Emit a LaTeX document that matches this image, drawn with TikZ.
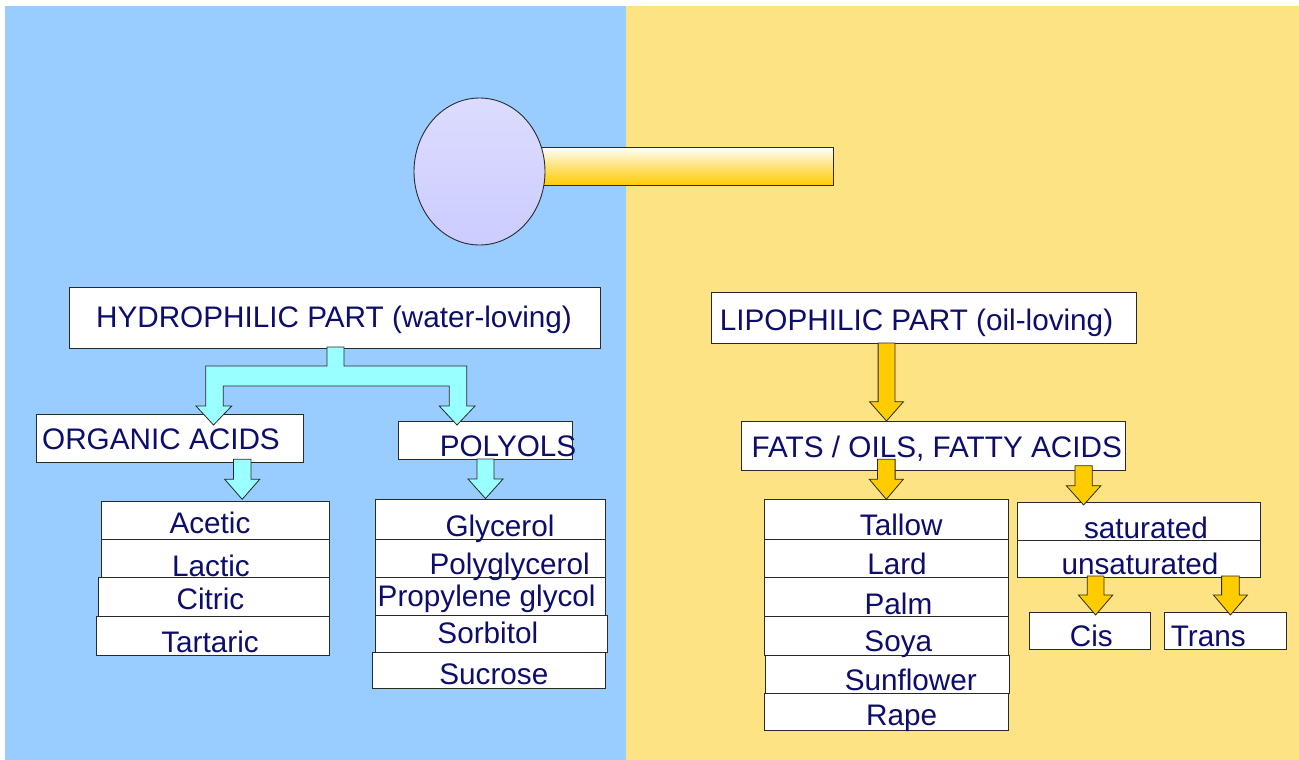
\documentclass[tikz,border=0pt]{standalone}
\usepackage{fontspec}
\setmainfont{Liberation Sans}
\usetikzlibrary{fit,shapes.geometric}
\definecolor{bgblue}{HTML}{99CCFF}
\definecolor{bgyellow}{HTML}{FDE383}
\definecolor{txt}{HTML}{0D0D6B}
\definecolor{cyanfill}{HTML}{99FFFF}
\definecolor{goldfill}{HTML}{FFCC00}
\definecolor{goldmid}{HTML}{FFE27A}
\definecolor{headtop}{HTML}{DCDCFF}
\definecolor{headbot}{HTML}{CCCCFF}
\definecolor{edge}{HTML}{2A2A2A}
\tikzset{
  box/.style={draw=edge, fill=white, line width=0.9pt, inner sep=0pt},
  lbl/.style={text=txt, font=\fontsize{29.7}{34}\selectfont, inner sep=0pt, anchor=base},
  cyanarrow/.style={draw=edge, fill=cyanfill, line width=0.8pt, line join=miter},
  goldarrow/.style={draw=edge, fill=goldfill, line width=0.8pt, line join=miter},
}
% style, x, ytop, ybase, ytip, shaft half width, head half width
\newcommand{\blockdown}[7]{%
  \draw[#1] (#2-#6,#3) -- (#2+#6,#3) -- (#2+#6,#4) -- (#2+#7,#4) -- (#2,#5) -- (#2-#7,#4) -- (#2-#6,#4) -- cycle;}
\newcommand{\bx}[5]{\node[box, fit={(#2,#3)(#4,#5)}] (#1) {};}
\begin{document}
\begin{tikzpicture}[x=1pt,y=-1pt]
\useasboundingbox (0,0) rectangle (1299,760);
\fill[white] (0,0) rectangle (1299,760);
\fill[bgblue] (5,6) rectangle (626,760);
\fill[bgyellow] (626,6) rectangle (1299,760);

% molecule
\node[draw=edge, line width=0.9pt, fit={(540,147)(833,185)}, inner sep=0pt,
      top color=white, bottom color=goldfill, middle color=goldmid] (tail) {};
\node[draw=edge, line width=0.9pt, ellipse, minimum width=131pt, minimum height=147pt,
      top color=headtop, bottom color=headbot, inner sep=0pt] (head) at (479.5,171.5) {};

% main boxes
\bx{hyd}{69}{287}{600}{348}
\bx{lip}{711}{292}{1136}{343}
\bx{org}{36}{414}{303}{462}
\bx{pol}{398}{421}{572}{459}
\bx{fats}{741.7}{421}{1125.7}{470}

% acids list
\bx{acet}{101}{501.7}{329}{539}
\bx{lact}{101}{539}{329}{577.3}
\bx{citr}{98.3}{577.3}{329}{616.7}
\bx{tart}{96.7}{616.7}{329}{655.7}

% polyols list
\bx{glyc}{375}{499.3}{605}{539}
\bx{pgly}{375}{539}{605}{577.3}
\bx{prop}{375}{577.3}{605}{615}
\bx{sorb}{375}{615}{607.3}{652.7}
\bx{sucr}{372.3}{652.7}{605}{688.3}

% fats list
\bx{tall}{764.3}{499.3}{1008.3}{539}
\bx{lard}{764.3}{539}{1008.3}{577.3}
\bx{palm}{764.3}{577.3}{1008.3}{616.7}
\bx{soya}{764.3}{616.7}{1008.3}{655}
\bx{sunf}{765.7}{655}{1009}{693.3}
\bx{rape}{764.3}{693.3}{1008.3}{730.7}

% saturation
\bx{sat}{1017.3}{502.3}{1260.7}{540}
\bx{unsat}{1017.3}{540}{1260.7}{577.3}
\bx{cis}{1029.3}{612.3}{1150.7}{649.3}
\bx{trans}{1164}{612.3}{1286}{649.3}

% labels
\node[lbl] (thyd) at (334,327.5) {HYDROPHILIC PART (water-loving)};
\node[lbl] (tlip) at (916.5,330.5) {LIPOPHILIC PART (oil-loving)};
\node[lbl] (torg) at (161,449.5) {ORGANIC ACIDS};
\node[lbl] (tpol) at (508,456.5) {POLYOLS};
\node[lbl] (tfats) at (936.7,457) {FATS / OILS, FATTY ACIDS};

\node[lbl] (tacet) at (210,533) {Acetic};
\node[lbl] (tlact) at (211,576.5) {Lactic};
\node[lbl] (tcitr) at (210.5,609.5) {Citric};
\node[lbl] (ttart) at (210,652.5) {Tartaric};

\node[lbl] (tglyc) at (500,536.5) {Glycerol};
\node[lbl] (tpgly) at (509.7,574.8) {Polyglycerol};
\node[lbl] (tprop) at (486.7,606.5) {Propylene glycol};
\node[lbl] (tsorb) at (487.8,643) {Sorbitol};
\node[lbl] (tsucr) at (493.8,684) {Sucrose};

\node[lbl] (ttall) at (901.2,535.8) {Tallow};
\node[lbl] (tlard) at (897,574.8) {Lard};
\node[lbl] (tpalm) at (898.5,614) {Palm};
\node[lbl] (tsoya) at (898.3,651) {Soya};
\node[lbl] (tsunf) at (910.8,690) {Sunflower};
\node[lbl] (trape) at (901.7,725) {Rape};

\node[lbl] (tsat) at (1146,538.5) {saturated};
\node[lbl] (tunsat) at (1140,574.5) {unsaturated};
\node[lbl] (tcis) at (1091.3,646.8) {Cis};
\node[lbl] (ttrans) at (1208.3,646.8) {Trans};

% cyan branching arrow
\draw[cyanarrow] (327,347) -- (344,347) -- (344,366) -- (466.7,366) -- (466.7,406)
  -- (475,406) -- (457,425) -- (439.3,406) -- (449.3,406) -- (449.3,386)
  -- (223.3,386) -- (223.3,406) -- (231.7,406) -- (213.5,425) -- (196,406)
  -- (205.7,406) -- (205.7,366) -- (327,366) -- cycle;
\blockdown{cyanarrow}{242.2}{459.3}{479.3}{499.3}{8.8}{17.5}
\blockdown{cyanarrow}{485.5}{459}{479}{498.5}{8.5}{17.5}

% gold arrows
\blockdown{goldarrow}{886.5}{343}{401.7}{421}{8.4}{17}
\blockdown{goldarrow}{886.3}{459.3}{479.3}{499.3}{8.8}{17}
\blockdown{goldarrow}{1083.6}{465.7}{485.7}{505}{8.7}{17.3}
\blockdown{goldarrow}{1095.6}{576}{595}{615}{8.3}{17.2}
\blockdown{goldarrow}{1230.4}{576}{595}{615}{8.8}{17}
\end{tikzpicture}
\end{document}
